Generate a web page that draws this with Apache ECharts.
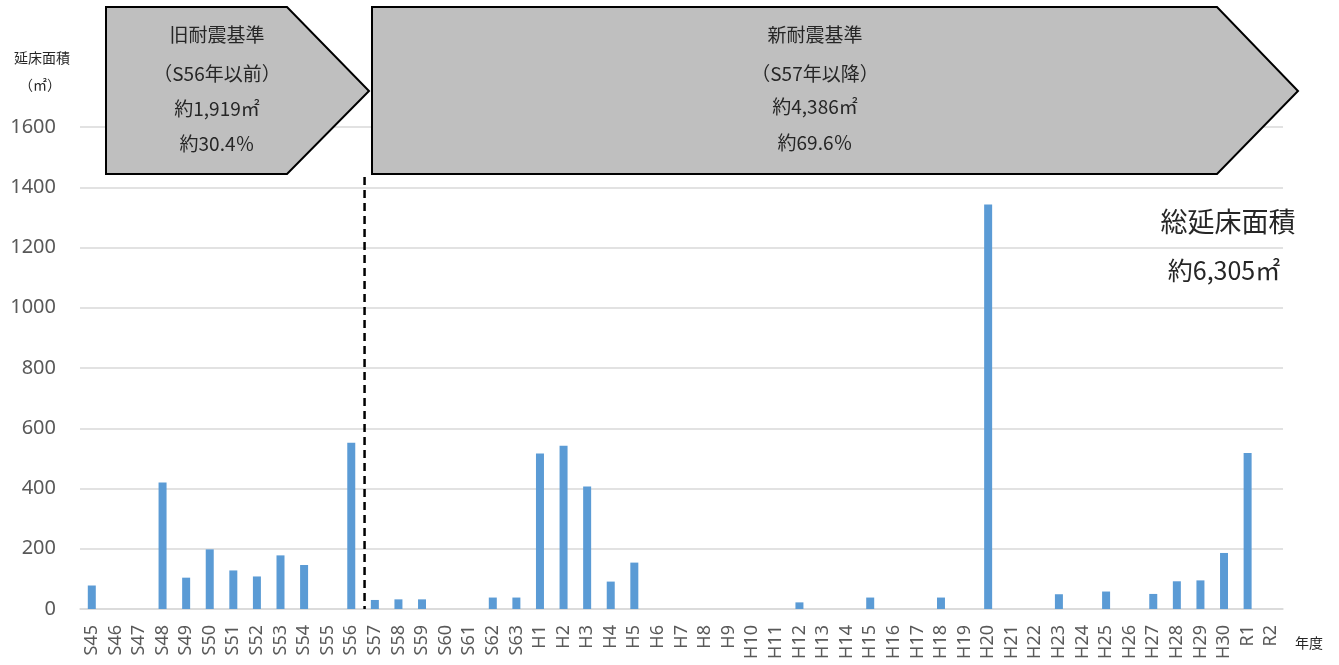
<!DOCTYPE html>
<html>
<head>
<meta charset="utf-8">
<script src="https://cdn.jsdelivr.net/npm/echarts@6/dist/echarts.min.js"></script>
<style>
html,body{margin:0;padding:0;background:#fff;}
#c{width:1339px;height:665px;}
</style>
</head>
<body>
<div id="c"></div>
<script>
const categories = ['S45','S46','S47','S48','S49','S50','S51','S52','S53','S54','S55','S56','S57','S58','S59','S60','S61','S62','S63',
  'H1','H2','H3','H4','H5','H6','H7','H8','H9','H10','H11','H12','H13','H14','H15','H16','H17','H18','H19','H20','H21','H22','H23','H24','H25','H26','H27','H28','H29','H30','R1','R2'];
const areaValues = [78,0,0,420,104,198,128,108,178,146,0,552,30,32,32,0,0,38,38,
  516,542,407,91,154,0,0,0,0,0,0,22,0,0,38,0,0,38,0,1343,0,0,49,0,58,0,50,92,95,186,518,0];
const yTicks = {min:0, max:1600, interval:200};
const oldLines = ['旧耐震基準','（S56年以前）','約1,919㎡','約30.4％'];
const newLines = ['新耐震基準','（S57年以降）','約4,386㎡','約69.6％'];
const totalLines = ['総延床面積','約6,305㎡'];
const FONT = '"Noto Sans", "Noto Sans CJK JP", sans-serif';
const JFONT = '"Noto Sans CJK JP", "Noto Sans", sans-serif';

const chart = echarts.init(document.getElementById('c'));
function textLines(lines, cx, ys, size){
  return lines.map((t,i)=>({type:'text', z:10, style:{text:t, x:cx, y:ys[i], align:'center', verticalAlign:'middle', fill:'#262626', font:size+'px '+JFONT}}));
}
const option = {
  animation:false,
  grid:{left:80, right:56, top:127, bottom:56, containLabel:false},
  xAxis:{type:'category', data:categories,
    axisLine:{lineStyle:{color:'#d9d9d9', width:1.5}}, axisTick:{show:false},
    axisLabel:{rotate:90, interval:0, color:'#595959', fontSize:18, fontFamily:FONT, margin:16}},
  yAxis:{type:'value', min:yTicks.min, max:yTicks.max, interval:yTicks.interval,
    axisLine:{show:false}, axisTick:{show:false},
    splitLine:{lineStyle:{color:'#d9d9d9', width:1.5}},
    axisLabel:{color:'#595959', fontSize:20, fontFamily:FONT, margin:24, formatter:(v)=>String(v)}},
  series:[{type:'bar', data:areaValues, barWidth:8, itemStyle:{color:'#5b9bd5'}}]
};
chart.setOption(option);

const x56 = chart.convertToPixel({xAxisIndex:0}, 'S56');
const x57 = chart.convertToPixel({xAxisIndex:0}, 'S57');
const xd = (x56 + x57)/2 + 1.5;
const y0 = chart.convertToPixel({yAxisIndex:0}, 0);

const graphics = [
  {type:'polygon', z:5, shape:{points:[[106,7],[287,7],[369,91],[287,174],[106,174]]}, style:{fill:'#bfbfbf', stroke:'#000', lineWidth:2}},
  {type:'polygon', z:5, shape:{points:[[372,7],[1217,7],[1298,91],[1217,174],[372,174]]}, style:{fill:'#bfbfbf', stroke:'#000', lineWidth:2}},
  {type:'line', z:6, shape:{x1:xd, y1:177, x2:xd, y2:y0}, style:{stroke:'#000', lineWidth:2.5, lineDash:[8,5]}},
  {type:'text', style:{text:'延床面積', x:42, y:58, align:'center', verticalAlign:'middle', fill:'#262626', font:'14px '+JFONT}},
  {type:'text', style:{text:'（㎡）', x:40, y:85, align:'center', verticalAlign:'middle', fill:'#262626', font:'14px '+JFONT}},
  {type:'text', style:{text:'年度', x:1309, y:643, align:'center', verticalAlign:'middle', fill:'#262626', font:'14px '+JFONT}},
  {type:'text', style:{text:totalLines[0], x:1228, y:222, align:'center', verticalAlign:'middle', fill:'#262626', font:'27px '+JFONT}},
  {type:'text', style:{text:totalLines[1], x:1224, y:270, align:'center', verticalAlign:'middle', fill:'#262626', font:'25px '+JFONT}}
].concat(textLines(oldLines, 217, [35,74,109,144], 19))
 .concat(textLines(newLines, 815, [35,74,107,143], 19));
chart.setOption({graphic:graphics});
</script>
</body>
</html>
